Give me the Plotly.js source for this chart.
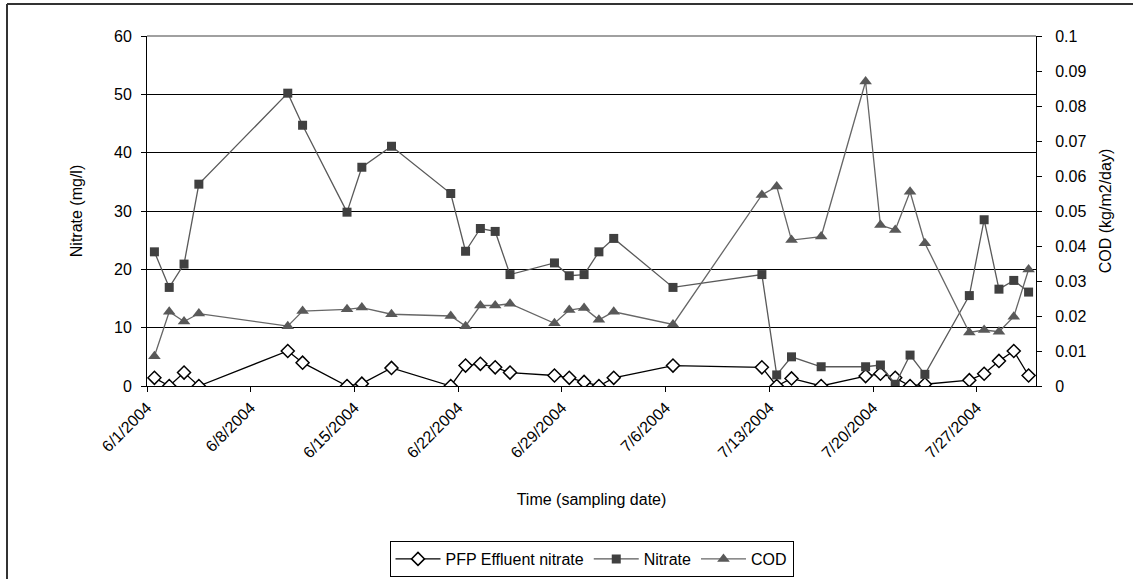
<!DOCTYPE html>
<html>
<head>
<meta charset="utf-8">
<script src="https://cdn.plot.ly/plotly-3.0.1.min.js"></script>
<style>
  html, body { margin: 0; padding: 0; background: #fff; }
  #chart { width: 1133px; height: 579px; }
</style>
</head>
<body>
<div id="chart"></div>
<script>
// Sampling dates (2004)
const dates = [
  "2004-06-01","2004-06-02","2004-06-03","2004-06-04","2004-06-10","2004-06-11",
  "2004-06-14","2004-06-15","2004-06-17","2004-06-21","2004-06-22","2004-06-23",
  "2004-06-24","2004-06-25","2004-06-28","2004-06-29","2004-06-30","2004-07-01",
  "2004-07-02","2004-07-06","2004-07-12","2004-07-13","2004-07-14","2004-07-16",
  "2004-07-19","2004-07-20","2004-07-21","2004-07-22","2004-07-23","2004-07-26",
  "2004-07-27","2004-07-28","2004-07-29","2004-07-30"
];
// PFP Effluent nitrate (mg/l)
const pfpNitrate = [
  1.4, 0, 2.3, 0, 6.0, 4.0,
  0, 0.4, 3.1, 0, 3.5, 3.8,
  3.2, 2.3, 1.8, 1.4, 0.7, 0,
  1.4, 3.5, 3.2, 0, 1.3, 0,
  1.7, 2.1, 1.4, 0, 0.3, 1.0,
  2.1, 4.3, 6.0, 1.8
];
// Nitrate (mg/l)
const nitrate = [
  23.0, 16.9, 20.9, 34.6, 50.2, 44.7,
  29.8, 37.5, 41.1, 33.0, 23.1, 27.0,
  26.5, 19.1, 21.1, 18.9, 19.1, 23.0,
  25.3, 16.9, 19.1, 1.9, 5.0, 3.3,
  3.3, 3.6, 0.3, 5.3, 2.0, 15.5,
  28.5, 16.6, 18.1, 16.1
];
// COD (kg/m2/day)
const cod = [
  0.0085, 0.0212, 0.0184, 0.0207, 0.0171, 0.0214,
  0.0219, 0.0224, 0.0205, 0.0200, 0.0171, 0.0230,
  0.0230, 0.0235, 0.0179, 0.0217, 0.0223, 0.0189,
  0.0212, 0.0176, 0.0546, 0.0570, 0.0417, 0.0427,
  0.0870, 0.0460, 0.0446, 0.0555, 0.0408, 0.0153,
  0.0160, 0.0155, 0.0198, 0.0333
];
const seriesNames = ["PFP Effluent nitrate", "Nitrate", "COD"];

// Excel date axis: each day is centred in its slot
const xs = dates.map(d => d + " 12:00");
const FONT = "Liberation Sans, Arial, sans-serif";

const traces = [
  {
    x: xs, y: pfpNitrate, name: seriesNames[0], type: "scatter", mode: "lines+markers",
    line: { color: "#000000", width: 1.3 },
    marker: { symbol: "diamond", size: 10, color: "#ffffff", line: { color: "#000000", width: 1.5 } }
  },
  {
    x: xs, y: nitrate, name: seriesNames[1], type: "scatter", mode: "lines+markers",
    line: { color: "#595959", width: 1.3 },
    marker: { symbol: "square", size: 9, color: "#404040", line: { width: 0 } }
  },
  {
    x: xs, y: cod, name: seriesNames[2], type: "scatter", mode: "lines+markers", yaxis: "y2",
    line: { color: "#666666", width: 1.3 },
    marker: { symbol: "triangle-up", size: 11, color: "#595959", line: { width: 0 } }
  }
];

const plotL = 147, plotR = 1036, plotT = 36, plotB = 386;
const W = 1133, H = 579;
const px2x = p => (p - plotL) / (plotR - plotL);
const py2y = p => (plotB - p) / (plotB - plotT);

const layout = {
  width: W, height: H,
  margin: { l: plotL, r: W - plotR, t: plotT, b: H - plotB, pad: 0, autoexpand: false },
  paper_bgcolor: "#ffffff", plot_bgcolor: "#ffffff",
  font: { family: FONT, size: 16, color: "#000000" },
  showlegend: true,
  legend: {
    orientation: "h", x: 0.5, xanchor: "center",
    yref: "container", y: (H - 541) / H, yanchor: "top",
    bordercolor: "#000000", borderwidth: 1, bgcolor: "#ffffff",
    font: { family: FONT, size: 16, color: "#000000" },
    itemwidth: 45, tracegroupgap: 0
  },
  xaxis: {
    type: "date",
    range: ["2004-06-01", "2004-07-31"],
    tick0: "2004-06-01", dtick: 7 * 86400000,
    tickformat: "%-m/%-d/%Y", tickangle: -45,
    ticks: "outside", ticklen: 5, tickcolor: "#000000", tickwidth: 1,
    showline: true, linecolor: "#000000", linewidth: 1,
    showgrid: false, zeroline: false,
    tickfont: { family: FONT, size: 16 },
    title: { text: "Time (sampling date)", font: { family: FONT, size: 16 }, standoff: 33 }
  },
  yaxis: {
    range: [0, 60], tick0: 0, dtick: 10,
    ticks: "outside", ticklen: 5, tickcolor: "#000000",
    ticklabelstandoff: 6,
    showline: true, linecolor: "#000000", linewidth: 1,
    showgrid: true, gridcolor: "#000000", gridwidth: 1, zeroline: false,
    tickfont: { family: FONT, size: 16 },
    title: { text: "Nitrate (mg/l)", font: { family: FONT, size: 16 }, standoff: 27 }
  },
  yaxis2: {
    overlaying: "y", side: "right",
    range: [0, 0.1], tick0: 0, dtick: 0.01,
    ticks: "outside", ticklen: 5, tickcolor: "#000000",
    ticklabelstandoff: 10,
    showline: true, linecolor: "#000000", linewidth: 1,
    showgrid: false, zeroline: false,
    tickfont: { family: FONT, size: 16 },
    title: { text: "COD (kg/m2/day)", font: { family: FONT, size: 16 }, standoff: 14 }
  },
  shapes: [
    // plot area top border
    { type: "line", xref: "paper", yref: "paper", x0: 0, x1: 1, y0: 1, y1: 1,
      line: { color: "#808080", width: 1.5 } },
    // chart frame (left and top edges visible)
    { type: "line", xref: "paper", yref: "paper", x0: px2x(7), x1: px2x(7), y0: py2y(4), y1: py2y(620),
      line: { color: "#333333", width: 2 } },
    { type: "line", xref: "paper", yref: "paper", x0: px2x(7), x1: px2x(1200), y0: py2y(4), y1: py2y(4),
      line: { color: "#333333", width: 2 } }
  ]
};

Plotly.newPlot("chart", traces, layout, { displayModeBar: false, staticPlot: true });
</script>
</body>
</html>
